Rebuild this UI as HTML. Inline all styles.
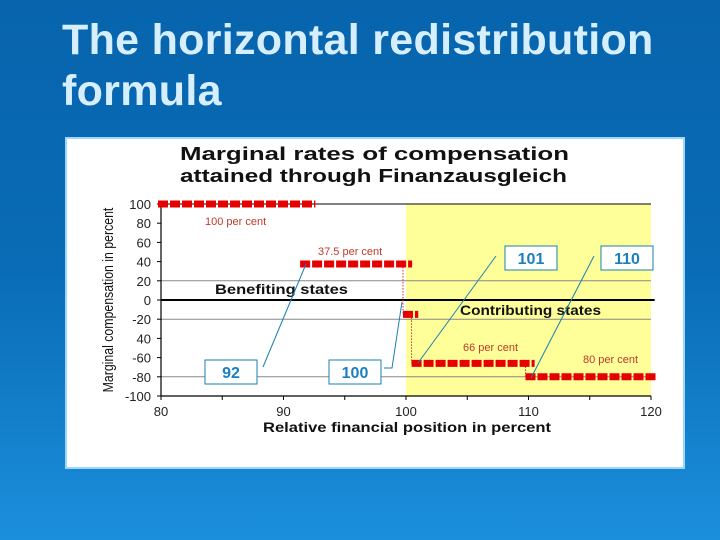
<!DOCTYPE html>
<html><head><meta charset="utf-8"><style>
html,body{margin:0;padding:0}
body{width:720px;height:540px;overflow:hidden;background:linear-gradient(180deg,#0764ad 0%,#0a6cb6 50%,#1b8fdc 100%);font-family:"Liberation Sans",sans-serif;position:relative}
#title{position:absolute;left:62px;top:15px;color:#d6efff;font-weight:bold;font-size:43px;line-height:51px;transform:scaleX(1.0);transform-origin:left top;letter-spacing:0.3px;white-space:nowrap}
</style></head><body>
<div id="title">The horizontal redistribution<br>formula</div>
<svg id="chart" width="720" height="540" style="position:absolute;left:0;top:0" font-family="Liberation Sans, sans-serif"></svg>
<script>
const xTicks=[80,90,100,110,120];
const yTicks=[100,80,60,40,20,0,-20,40,-60,-80,-100];
const yTickVals=[100,80,60,40,20,0,-20,-40,-60,-80,-100];
const segStart=[80,91.6,100,100.7,110];
const segEnd=[92.6,100.5,101,110.5,120.5];
const segRate=[100,37.5,-15,-66,-80];
const rateLabels=["100 per cent","37.5 per cent","66 per cent","80 per cent"];
const callouts=["92","100","101","110"];
const gridVals=[20,-20,-80];
const X=v=>161+(v-80)*12.25;
const Y=v=>300-v*0.96;
const svg=document.getElementById('chart');
const NS='http://www.w3.org/2000/svg';
function mk(t,a,p){const e=document.createElementNS(NS,t);for(const k in a)e.setAttribute(k,a[k]);(p||svg).appendChild(e);return e;}
let e;
e=mk('rect',{x:66,y:138,width:618,height:330,fill:'#fff',stroke:'#9cd7ff','stroke-width':2});


e=mk('rect',{x:X(100),y:Y(100),width:X(120)-X(100),height:Y(-100)-Y(100),fill:'#ffff99'});


gridVals.forEach(v=>{e=mk('line',{x1:X(80),x2:X(120),y1:Y(v),y2:Y(v),stroke:'#888','stroke-width':1});

});
e=mk('line',{x1:X(80),x2:X(120),y1:Y(100),y2:Y(100),stroke:'#000','stroke-width':1});


e=mk('line',{x1:X(80),x2:X(80),y1:Y(100),y2:Y(-100),stroke:'#000','stroke-width':1.2});


e=mk('line',{x1:X(80),x2:X(120),y1:Y(-100),y2:Y(-100),stroke:'#000','stroke-width':1.2});


e=mk('line',{x1:X(80),x2:X(120.3),y1:Y(0),y2:Y(0),stroke:'#000','stroke-width':2});


yTickVals.forEach((v,i)=>{e=mk('text',{x:151,y:Y(v)+5,'text-anchor':'end','font-size':13,fill:'#222'});e.textContent=yTicks[i];


mk('line',{x1:X(80)-4,x2:X(80),y1:Y(v),y2:Y(v),stroke:'#000'});});
xTicks.forEach(v=>{e=mk('text',{x:X(v),y:416,'text-anchor':'middle','font-size':13,fill:'#222'});e.textContent=v;

});
[85,95,105,115].concat(xTicks).forEach(v=>mk('line',{x1:X(v),x2:X(v),y1:Y(-100),y2:Y(-100)+4,stroke:'#000'}));
e=mk('text',{x:263,y:432,'font-size':13.5,'font-weight':'bold',fill:'#111',textLength:288,lengthAdjust:'spacingAndGlyphs'});e.textContent='Relative financial position in percent';


e=mk('text',{x:0,y:0,'text-anchor':'middle','font-size':14.5,fill:'#111',transform:'translate(113,300) rotate(-90) scale(0.85,1)'});e.textContent='Marginal compensation in percent';


e=mk('text',{x:180,y:160,'font-size':18,'font-weight':'bold',fill:'#111',textLength:389,lengthAdjust:'spacingAndGlyphs'});e.textContent='Marginal rates of compensation';


e=mk('text',{x:180,y:182,'font-size':18,'font-weight':'bold',fill:'#111',textLength:387,lengthAdjust:'spacingAndGlyphs'});e.textContent='attained through Finanzausgleich';


e=mk('text',{x:215,y:294,'font-size':13.5,'font-weight':'bold',fill:'#111',textLength:133,lengthAdjust:'spacingAndGlyphs'});e.textContent='Benefiting states';


e=mk('text',{x:460,y:315,'font-size':13.5,'font-weight':'bold',fill:'#111',textLength:141,lengthAdjust:'spacingAndGlyphs'});e.textContent='Contributing states';


for(let i=2;i<segStart.length;i++){e=mk('line',{x1:X(segStart[i])-3,x2:X(segStart[i])-3,y1:Y(segRate[i-1]),y2:Y(segRate[i]),stroke:'#c33','stroke-width':1,'stroke-dasharray':'1.5,1.5'});

}
for(let i=0;i<segStart.length;i++){e=mk('line',{x1:X(segStart[i])-3,x2:X(segEnd[i]),y1:Y(segRate[i]),y2:Y(segRate[i]),stroke:'#e60000','stroke-width':7,'stroke-dasharray':'10,2'});

}
const lblPos=[[205,225],[318,255],[463,351],[583,363]];
rateLabels.forEach((t,i)=>{e=mk('text',{x:lblPos[i][0],y:lblPos[i][1],'font-size':11,fill:'#c0392b'});e.textContent=t;

});
const boxPos=[[205,360],[329,360],[505,246],[601,246]];
const lines=[[[263,367],[306,264]],[[384,368],[392,368],[402,302]],[[496,256],[418,363]],[[594,256],[531,378]]];
callouts.forEach((t,i)=>{const [bx,by]=boxPos[i];
e=mk('polyline',{points:lines[i].map(p=>p.join(',')).join(' '),fill:'none',stroke:'#1a7fb0','stroke-width':1});


e=mk('rect',{x:bx,y:by,width:52,height:24,fill:'#fff',stroke:'#1a7fb0','stroke-width':1});


e=mk('text',{x:bx+26,y:by+18,'text-anchor':'middle','font-size':16,'font-weight':'bold',fill:'#1a7fc0'});e.textContent=t;

});
</script>
</body></html>
